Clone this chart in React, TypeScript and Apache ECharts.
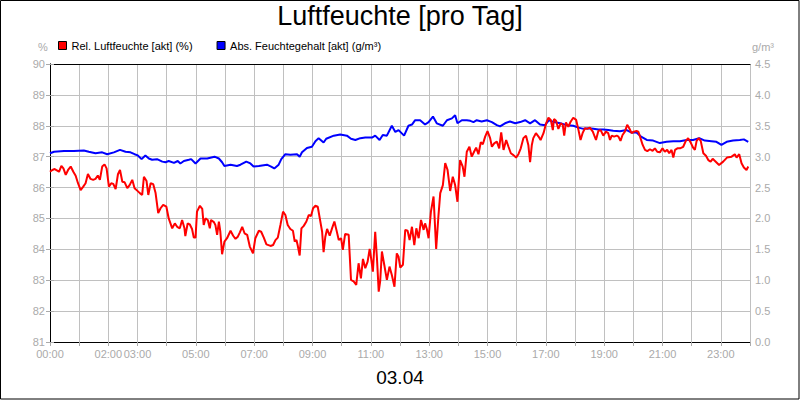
import React, { useEffect, useRef } from "react";
import * as echarts from "echarts";

const FONT = "'Liberation Sans', Arial, Helvetica, sans-serif";

const titleText = "Luftfeuchte [pro Tag]";
const dateText = "03.04";
const relName = "Rel. Luftfeuchte [akt] (%)";
const absName = "Abs. Feuchtegehalt [akt] (g/m³)";
const leftUnit = "%";
const rightUnit = "g/m³";

// x axis: hours of the day, labels shown only at these hours
const labelHours = [0, 2, 3, 5, 7, 9, 11, 13, 15, 17, 19, 21, 23];

// relative humidity (%)
const relHours = [
  0.00, 0.08, 0.16, 0.25, 0.31, 0.39, 0.46, 0.54, 0.62, 0.71, 0.80, 0.88, 0.96, 1.05, 1.14, 1.22, 1.30, 1.39, 1.48, 1.56,
  1.64, 1.71, 1.79, 1.87, 1.94, 2.02, 2.10, 2.17, 2.25, 2.33, 2.40, 2.48, 2.56, 2.65, 2.73, 2.82, 2.90, 2.99, 3.08, 3.16,
  3.22, 3.31, 3.37, 3.45, 3.54, 3.62, 3.71, 3.79, 3.88, 3.99, 4.07, 4.19, 4.28, 4.36, 4.45, 4.53, 4.61, 4.64, 4.72, 4.79,
  4.87, 4.93, 4.99, 5.04, 5.14, 5.22, 5.27, 5.33, 5.41, 5.48, 5.52, 5.62, 5.67, 5.73, 5.79, 5.84, 5.90, 5.98, 6.07, 6.19,
  6.28, 6.36, 6.44, 6.51, 6.59, 6.67, 6.76, 6.85, 6.96, 7.04, 7.16, 7.24, 7.33, 7.42, 7.56, 7.65, 7.73, 7.81, 7.90, 7.99,
  8.07, 8.15, 8.24, 8.33, 8.39, 8.45, 8.49, 8.56, 8.62, 8.70, 8.79, 8.87, 8.95, 9.02, 9.10, 9.18, 9.25, 9.33, 9.38, 9.44,
  9.50, 9.59, 9.67, 9.75, 9.82, 9.90, 9.98, 10.04, 10.12, 10.24, 10.32, 10.41, 10.50, 10.58, 10.66, 10.73, 10.81, 10.89, 10.96, 11.01,
  11.07, 11.15, 11.21, 11.27, 11.32, 11.38, 11.46, 11.55, 11.64, 11.72, 11.81, 11.89, 11.95, 12.01, 12.10, 12.18, 12.26, 12.33, 12.41, 12.49,
  12.56, 12.64, 12.72, 12.81, 12.86, 12.92, 12.98, 13.06, 13.15, 13.24, 13.32, 13.38, 13.47, 13.55, 13.63, 13.72, 13.81, 13.89, 13.97, 14.06,
  14.15, 14.21, 14.29, 14.38, 14.46, 14.54, 14.61, 14.69, 14.77, 14.84, 14.92, 15.00, 15.09, 15.15, 15.23, 15.32, 15.40, 15.47, 15.55, 15.64,
  15.72, 15.80, 15.89, 15.98, 16.06, 16.14, 16.23, 16.32, 16.40, 16.46, 16.52, 16.57, 16.66, 16.75, 16.82, 16.92, 17.01, 17.09, 17.17, 17.24,
  17.28, 17.35, 17.43, 17.51, 17.58, 17.63, 17.69, 17.77, 17.85, 17.94, 18.04, 18.12, 18.19, 18.26, 18.34, 18.42, 18.51, 18.61, 18.72, 18.80,
  18.88, 18.97, 19.06, 19.14, 19.20, 19.26, 19.34, 19.43, 19.49, 19.56, 19.63, 19.71, 19.79, 19.86, 19.94, 20.02, 20.11, 20.17, 20.23, 20.32,
  20.40, 20.48, 20.57, 20.66, 20.74, 20.82, 20.91, 21.00, 21.08, 21.16, 21.23, 21.31, 21.37, 21.43, 21.51, 21.60, 21.71, 21.80, 21.88, 21.96,
  22.05, 22.11, 22.17, 22.24, 22.31, 22.40, 22.49, 22.57, 22.65, 22.72, 22.80, 22.94, 23.08, 23.21, 23.37, 23.48, 23.54, 23.63, 23.71, 23.79,
  23.88, 23.94,
];
const relValues = [
  86.51, 86.57, 86.60, 86.55, 86.51, 86.70, 86.62, 86.41, 86.57, 86.68, 86.51, 86.38, 86.14, 85.92, 86.03, 86.14, 86.44, 86.28, 86.25, 86.28,
  86.39, 86.25, 86.68, 86.75, 86.62, 86.03, 86.14, 86.12, 85.95, 86.43, 86.57, 86.19, 86.17, 85.98, 86.08, 86.25, 85.98, 85.90, 85.82, 85.76,
  86.35, 86.21, 85.76, 86.14, 86.11, 85.82, 85.17, 85.33, 85.44, 85.38, 85.00, 84.68, 84.84, 84.73, 84.68, 84.95, 84.68, 84.43, 84.84, 84.81,
  84.66, 84.38, 84.38, 85.22, 85.41, 85.31, 84.79, 85.00, 84.95, 84.68, 84.95, 84.88, 84.79, 84.47, 84.90, 84.57, 83.84, 84.25, 84.36, 84.60,
  84.44, 84.34, 84.41, 84.55, 84.73, 84.52, 84.47, 84.09, 83.87, 84.36, 84.60, 84.57, 84.38, 84.16, 84.11, 84.14, 84.30, 84.38, 84.79, 85.22,
  85.11, 84.79, 84.66, 84.60, 84.25, 84.30, 84.14, 83.80, 84.68, 84.76, 84.90, 85.11, 85.08, 85.33, 85.41, 85.38, 85.00, 84.57, 83.91, 84.41,
  84.66, 84.44, 84.68, 84.90, 84.63, 84.30, 84.36, 83.98, 84.50, 84.47, 83.01, 82.96, 82.85, 83.55, 83.06, 83.69, 83.39, 83.60, 84.01, 83.71,
  83.28, 84.57, 83.71, 82.63, 82.96, 83.93, 83.50, 83.01, 83.44, 83.17, 82.79, 83.87, 83.76, 83.41, 83.50, 84.63, 84.60, 84.30, 84.73, 84.14,
  84.68, 84.36, 84.95, 84.63, 84.84, 84.66, 84.36, 85.22, 85.71, 84.01, 85.11, 85.82, 86.08, 86.79, 86.57, 85.89, 86.35, 86.08, 85.54, 86.89,
  86.68, 86.35, 87.16, 87.32, 87.00, 87.16, 87.29, 87.08, 87.47, 87.40, 87.65, 87.83, 87.60, 87.32, 87.43, 87.49, 87.27, 87.79, 87.22, 87.54,
  87.32, 87.11, 87.05, 86.97, 87.08, 87.27, 87.60, 87.68, 87.38, 86.82, 87.38, 87.60, 87.76, 87.65, 87.54, 87.76, 88.08, 88.26, 88.19, 87.86,
  88.22, 88.16, 87.90, 88.08, 88.03, 87.68, 88.11, 87.97, 88.13, 88.26, 88.19, 87.86, 87.54, 87.76, 87.92, 87.90, 87.94, 87.81, 87.54, 87.83,
  87.86, 87.68, 87.81, 87.76, 87.54, 87.68, 87.65, 87.68, 87.65, 87.51, 87.70, 87.81, 88.03, 87.92, 87.76, 87.81, 87.83, 87.81, 87.65, 87.38,
  87.22, 87.18, 87.24, 87.19, 87.27, 87.16, 87.14, 87.27, 87.16, 87.22, 87.11, 87.22, 86.97, 87.22, 87.27, 87.27, 87.32, 87.51, 87.60, 87.47,
  87.29, 87.22, 87.51, 87.60, 87.51, 87.11, 87.03, 86.89, 86.84, 86.93, 86.86, 86.73, 86.84, 86.97, 87.00, 87.08, 86.97, 87.08, 86.79, 86.65,
  86.57, 86.68,
];

// absolute humidity (g/m³)
const absHours = [
  0.00, 0.14, 0.48, 0.82, 1.16, 1.33, 1.56, 1.79, 1.96, 2.19, 2.40, 2.59, 2.76, 2.90, 3.01, 3.14, 3.27, 3.39, 3.50, 3.67,
  3.85, 3.96, 4.07, 4.25, 4.38, 4.47, 4.59, 4.76, 4.84, 4.99, 5.16, 5.39, 5.64, 5.79, 5.90, 5.98, 6.19, 6.41, 6.53, 6.73,
  6.87, 6.98, 7.16, 7.44, 7.58, 7.69, 7.84, 7.93, 8.07, 8.24, 8.47, 8.56, 8.64, 8.81, 8.98, 9.10, 9.21, 9.38, 9.47, 9.73,
  9.95, 10.18, 10.32, 10.47, 10.64, 10.81, 11.04, 11.15, 11.30, 11.41, 11.55, 11.72, 11.84, 11.95, 12.14, 12.29, 12.41, 12.52, 12.69, 12.86,
  12.98, 13.13, 13.26, 13.47, 13.61, 13.78, 13.89, 13.97, 14.12, 14.29, 14.41, 14.52, 14.63, 14.80, 14.98, 15.15, 15.32, 15.43, 15.60, 15.77,
  15.95, 16.12, 16.29, 16.46, 16.63, 16.80, 16.97, 17.11, 17.28, 17.49, 17.72, 17.94, 18.12, 18.29, 18.46, 18.63, 18.80, 18.97, 19.14, 19.31,
  19.54, 19.77, 19.94, 20.11, 20.28, 20.46, 20.68, 20.91, 21.14, 21.37, 21.60, 21.83, 22.05, 22.26, 22.45, 22.68, 22.85, 23.02, 23.20, 23.42,
  23.65, 23.79, 23.94,
];
const absValues = [
  3.055, 3.08, 3.09, 3.09, 3.10, 3.08, 3.055, 3.07, 3.04, 3.07, 3.11, 3.08, 3.07, 3.04, 3.02, 2.96, 3.02, 2.97, 2.95, 2.96,
  2.92, 2.91, 2.93, 2.90, 2.93, 2.89, 2.93, 2.95, 2.96, 2.89, 2.97, 2.97, 3.00, 2.97, 2.91, 2.85, 2.87, 2.85, 2.87, 2.92,
  2.89, 2.84, 2.85, 2.87, 2.84, 2.81, 2.87, 2.96, 3.04, 3.03, 3.04, 3.00, 3.07, 3.14, 3.16, 3.25, 3.30, 3.23, 3.29, 3.34,
  3.36, 3.34, 3.29, 3.27, 3.30, 3.31, 3.31, 3.34, 3.27, 3.35, 3.34, 3.50, 3.40, 3.43, 3.34, 3.50, 3.52, 3.59, 3.59, 3.52,
  3.56, 3.65, 3.54, 3.50, 3.59, 3.62, 3.67, 3.54, 3.59, 3.59, 3.58, 3.56, 3.59, 3.57, 3.59, 3.56, 3.51, 3.49, 3.54, 3.57,
  3.54, 3.56, 3.59, 3.54, 3.59, 3.52, 3.51, 3.59, 3.56, 3.54, 3.51, 3.50, 3.47, 3.45, 3.46, 3.45, 3.44, 3.44, 3.43, 3.42,
  3.41, 3.43, 3.39, 3.39, 3.32, 3.27, 3.26, 3.22, 3.24, 3.25, 3.25, 3.27, 3.27, 3.30, 3.26, 3.25, 3.24, 3.19, 3.24, 3.26,
  3.27, 3.28, 3.24,
];

const LABEL_GRAY = "#aaaaaa";
const GRID_GRAY = "#c0c0c0";

function pad2(n: number) {
  return n < 10 ? "0" + n : "" + n;
}

export default function App() {
  const ref = useRef<HTMLDivElement>(null);

  useEffect(() => {
    if (!ref.current) return;
    const chart = echarts.init(ref.current, undefined, { renderer: "svg" });

    const relData = relHours.map((h, i) => [h, relValues[i]]);
    const absData = absHours.map((h, i) => [h, absValues[i]]);

    const axisCommon = {
      axisLine: { show: true, lineStyle: { color: "#000", width: 1 } },
      axisTick: { show: true, length: 4, inside: false, lineStyle: { color: LABEL_GRAY } },
      axisLabel: { color: LABEL_GRAY, fontSize: 11, fontFamily: FONT, margin: 5 },
    };

    chart.setOption({
      animation: false,
      backgroundColor: "#fff",
      title: {
        text: titleText,
        left: "center",
        top: 2,
        padding: 0,
        textStyle: { fontSize: 27, fontWeight: "normal", color: "#000", fontFamily: FONT },
      },
      legend: {
        data: [relName, absName],
        left: 58,
        top: 40,
        itemWidth: 8,
        itemHeight: 8,
        itemGap: 24,
        icon: "rect",
        padding: 0,
        itemStyle: { borderColor: "#000", borderWidth: 1 },
        textStyle: { fontSize: 11, color: "#000", fontFamily: FONT },
      },
      grid: { left: 50, right: 50, top: 64, bottom: 58, containLabel: false },
      xAxis: [
        {
          type: "value",
          min: 0,
          max: 24,
          interval: 1,
          position: "bottom",
          ...axisCommon,
          axisLabel: {
            ...axisCommon.axisLabel,
            margin: 6,
            formatter: (v: number) => (labelHours.indexOf(v) >= 0 ? pad2(v) + ":00" : ""),
          },
          splitLine: { show: true, lineStyle: { color: GRID_GRAY, width: 1 } },
        },
        {
          type: "value",
          min: 0,
          max: 24,
          interval: 1,
          position: "top",
          axisLine: { show: true, lineStyle: { color: "#000", width: 1 } },
          axisTick: { show: false },
          axisLabel: { show: false },
          splitLine: { show: false },
        },
      ],
      yAxis: [
        {
          type: "value",
          min: 81,
          max: 90,
          interval: 1,
          position: "left",
          ...axisCommon,
          axisLabel: { ...axisCommon.axisLabel, margin: 5 },
          splitLine: { show: true, lineStyle: { color: GRID_GRAY, width: 1 } },
        },
        {
          type: "value",
          min: 0,
          max: 4.5,
          interval: 0.5,
          position: "right",
          ...axisCommon,
          axisLabel: { ...axisCommon.axisLabel, margin: 5, formatter: (v: number) => v.toFixed(1) },
          splitLine: { show: false },
        },
      ],
      series: [
        {
          name: relName,
          type: "line",
          xAxisIndex: 0,
          yAxisIndex: 0,
          data: relData,
          showSymbol: false,
          symbol: "none",
          z: 4,
          color: "#ff0000",
          itemStyle: { color: "#ff0000" },
          lineStyle: { color: "#ff0000", width: 2 },
        },
        {
          name: absName,
          type: "line",
          xAxisIndex: 0,
          yAxisIndex: 1,
          data: absData,
          showSymbol: false,
          symbol: "none",
          z: 3,
          color: "#0000ff",
          itemStyle: { color: "#0000ff" },
          lineStyle: { color: "#0000ff", width: 2 },
        },
      ],
      graphic: [
        {
          type: "rect",
          silent: true,
          shape: { x: 0.5, y: 0.5, width: 798.5, height: 398.5 },
          style: { fill: "none", stroke: "#000", lineWidth: 1 },
          z: 100,
        },
        {
          type: "text",
          x: 400,
          y: 377,
          style: {
            text: dateText,
            fontSize: 19,
            fontFamily: FONT,
            fill: "#000",
            align: "center",
            verticalAlign: "middle",
            textAlign: "center",
            textVerticalAlign: "middle",
          },
        },
        {
          type: "text",
          x: 43,
          y: 47,
          style: {
            text: leftUnit,
            fontSize: 11,
            fontFamily: FONT,
            fill: LABEL_GRAY,
            align: "center",
            verticalAlign: "middle",
            textAlign: "center",
            textVerticalAlign: "middle",
          },
        },
        {
          type: "text",
          x: 763,
          y: 47,
          style: {
            text: rightUnit,
            fontSize: 11,
            fontFamily: FONT,
            fill: LABEL_GRAY,
            align: "center",
            verticalAlign: "middle",
            textAlign: "center",
            textVerticalAlign: "middle",
          },
        },
      ],
    });

    return () => {
      chart.dispose();
    };
  }, []);

  return (
    <div
      ref={ref}
      style={{ position: "fixed", left: 0, top: 0, width: 800, height: 400, background: "#fff" }}
    />
  );
}
